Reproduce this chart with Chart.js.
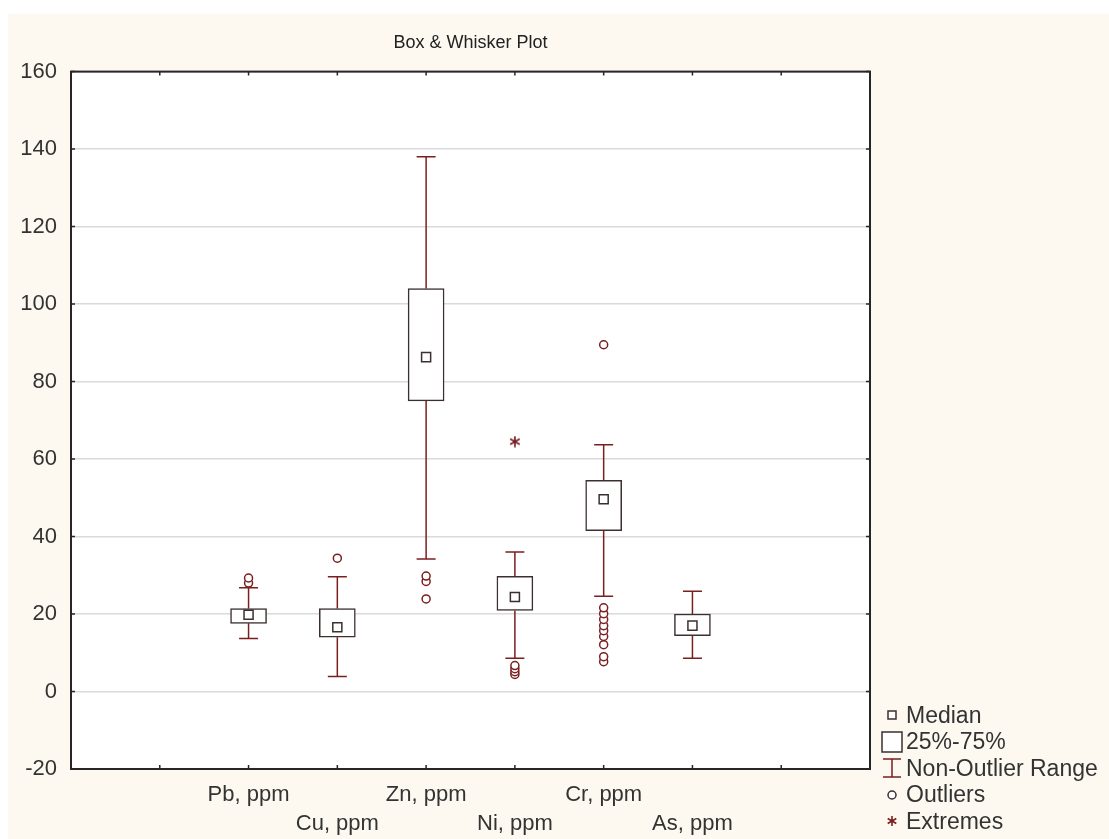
<!DOCTYPE html>
<html>
<head>
<meta charset="utf-8">
<script src="https://cdn.jsdelivr.net/npm/chart.js@4.4.0/dist/chart.umd.min.js"></script>
<style>
  html, body { margin: 0; padding: 0; background: #fff; }
  #wrap { position: absolute; left: 8px; top: 14px; width: 1101px; height: 825px; background: #fdf9f0; }
  #chart { position: absolute; left: 0; top: 0; }
  #legend { position: absolute; left: 872px; top: 688px; font: 23px Arial, "Liberation Sans", sans-serif; color: #333; }
  .row { height: 26.5px; display: flex; align-items: center; white-space: nowrap; }
  .row svg { width: 24px; height: 24px; margin-right: 2px; flex: none; }
</style>
</head>
<body>
<div id="wrap">
  <canvas id="chart" width="1101" height="825"></canvas>
  <div id="legend">
    <div class="row"><svg viewBox="0 0 24 24"><rect x="8" y="8" width="8" height="8" fill="#fff" stroke="#3b2f2f" stroke-width="1.5"/></svg>Median</div>
    <div class="row"><svg viewBox="0 0 24 24"><rect x="2" y="2" width="20" height="20" fill="#fff" stroke="#3b2f2f" stroke-width="1.5"/></svg>25%-75%</div>
    <div class="row"><svg viewBox="0 0 24 24"><path d="M3 3H21M12 3V21M3 21H21" fill="none" stroke="#7a1f1f" stroke-width="1.5"/></svg>Non-Outlier Range</div>
    <div class="row"><svg viewBox="0 0 24 24"><circle cx="12" cy="12" r="4" fill="#fff" stroke="#3b2f2f" stroke-width="1.5"/></svg>Outliers</div>
    <div class="row"><svg viewBox="0 0 24 24"><path d="M12 7V17M7.7 9.5L16.3 14.5M7.7 14.5L16.3 9.5" fill="none" stroke="#7a1f1f" stroke-width="1.6"/></svg>Extremes</div>
  </div>
</div>
<script>
// data
const categories = ['Pb, ppm', 'Cu, ppm', 'Zn, ppm', 'Ni, ppm', 'Cr, ppm', 'As, ppm'];
const q1 = [17.6, 14.0, 75.0, 20.9, 41.5, 14.4];
const medians = [19.8, 16.6, 86.3, 24.4, 49.6, 17.0];
const q3 = [21.4, 21.4, 104.0, 29.7, 54.5, 20.0];
const whiskerLow = [13.7, 3.9, 34.2, 8.6, 24.6, 8.6];
const whiskerHigh = [26.8, 29.6, 138.0, 36.0, 63.7, 25.9];
const outliers = [
  [28.0, 29.3],
  [34.4],
  [23.9, 28.4, 29.8],
  [4.4, 5.1, 5.9, 6.7],
  [7.7, 9.0, 12.1, 14.2, 15.7, 17.0, 18.6, 20.1, 21.6, 89.5],
  []
];
const extremes = [[], [], [], [64.5], [], []];
const yTicks = [-20, 0, 20, 40, 60, 80, 100, 120, 140, 160];

const firstSlot = 2;   // categories sit at x = 2..7 on a 0..9 axis
const slotCount = 9;

const boxColor = '#3b2f2f';
const whiskColor = '#7a1f1f';
const font = 'Arial, "Liberation Sans", sans-serif';

const xOf = i => i + firstSlot;

const boxData = categories.map((c, i) => ({ x: xOf(i), y: [q1[i], q3[i]] }));
const medianData = categories.map((c, i) => ({ x: xOf(i), y: medians[i] }));
const whiskerData = [];
categories.forEach((c, i) => {
  whiskerData.push({ x: xOf(i), y: whiskerLow[i] }, { x: xOf(i), y: q1[i] }, { x: xOf(i), y: null });
  whiskerData.push({ x: xOf(i), y: q3[i] }, { x: xOf(i), y: whiskerHigh[i] }, { x: xOf(i), y: null });
});
const capData = [];
categories.forEach((c, i) => {
  capData.push({ x: xOf(i), y: whiskerLow[i] }, { x: xOf(i), y: whiskerHigh[i] });
});
const outlierData = [];
outliers.forEach((list, i) => list.forEach(v => outlierData.push({ x: xOf(i), y: v })));
const extremeData = [];
extremes.forEach((list, i) => list.forEach(v => extremeData.push({ x: xOf(i), y: v })));

// six-spoke asterisk used as point style for extremes
const asterisk = document.createElement('canvas');
asterisk.width = 12; asterisk.height = 12;
(function () {
  const c = asterisk.getContext('2d');
  c.strokeStyle = whiskColor; c.lineWidth = 1.7;
  c.beginPath();
  c.moveTo(6, 0.5); c.lineTo(6, 11.5);
  c.moveTo(1.2, 3.2); c.lineTo(10.8, 8.8);
  c.moveTo(1.2, 8.8); c.lineTo(10.8, 3.2);
  c.stroke();
})();

// white plot area, frame and inward tick marks
const frameTicks = {
  id: 'frameTicks',
  beforeDraw(chart) {
    const { ctx, chartArea: a } = chart;
    ctx.save();
    ctx.fillStyle = '#fff';
    ctx.fillRect(a.left, a.top, a.right - a.left, a.bottom - a.top);
    ctx.restore();
  },
  afterDatasetsDraw(chart) {
    const { ctx, chartArea: a, scales: { x, y } } = chart;
    ctx.save();
    ctx.strokeStyle = '#262626';
    ctx.lineWidth = 1.5;
    ctx.beginPath();
    x.ticks.forEach(t => {
      const px = x.getPixelForValue(t.value);
      ctx.moveTo(px, a.bottom); ctx.lineTo(px, a.bottom - 4);
      ctx.moveTo(px, a.top); ctx.lineTo(px, a.top + 4);
    });
    y.ticks.forEach(t => {
      const py = y.getPixelForValue(t.value);
      ctx.moveTo(a.left, py); ctx.lineTo(a.left + 4, py);
      ctx.moveTo(a.right, py); ctx.lineTo(a.right - 4, py);
    });
    ctx.stroke();
    ctx.lineWidth = 2;
    ctx.strokeRect(a.left, a.top, a.right - a.left, a.bottom - a.top);
    ctx.restore();
  }
};

new Chart(document.getElementById('chart'), {
  type: 'scatter',
  data: {
    datasets: [
      {
        type: 'line', data: whiskerData, borderColor: whiskColor, borderWidth: 1.5,
        pointRadius: 0, spanGaps: false, order: 6
      },
      {
        type: 'bar', data: boxData, backgroundColor: '#fff', borderColor: boxColor,
        borderWidth: 1.5, borderSkipped: false, barThickness: 36, order: 5
      },
      {
        data: capData, pointStyle: 'line', pointRadius: 9.5, borderColor: whiskColor,
        borderWidth: 1.5, order: 4
      },
      {
        data: medianData, pointStyle: 'rect', pointRadius: 6.4, backgroundColor: '#fff',
        borderColor: boxColor, borderWidth: 1.5, order: 3
      },
      {
        data: outlierData, pointStyle: 'circle', pointRadius: 4, backgroundColor: '#fff',
        borderColor: whiskColor, borderWidth: 1.5, order: 2
      },
      {
        data: extremeData, pointStyle: asterisk, pointRadius: 6, order: 1
      }
    ]
  },
  options: {
    responsive: false,
    animation: false,
    events: [],
    layout: { padding: { left: 0, right: 239, top: 0, bottom: 0 } },
    plugins: {
      legend: { display: false },
      tooltip: { enabled: false },
      title: {
        display: true, text: 'Box & Whisker Plot', fullSize: false, color: '#222',
        font: { family: font, size: 18, weight: 'normal' }, padding: { top: 18, bottom: 18 }
      }
    },
    scales: {
      x: {
        type: 'linear', min: 0, max: slotCount, offset: false,
        afterFit: s => { s.height = 70; },
        afterBuildTicks: s => { s.ticks = Array.from({ length: slotCount + 1 }, (_, k) => ({ value: k })); },
        grid: { display: false, drawTicks: false },
        border: { display: false },
        ticks: {
          autoSkip: false, maxRotation: 0, padding: 12, color: '#333',
          font: { family: font, size: 22, lineHeight: 1.3 },
          callback: v => {
            const i = v - firstSlot;
            if (i < 0 || i >= categories.length) return '';
            return i % 2 === 0 ? categories[i] : ['', categories[i]];
          }
        }
      },
      y: {
        min: yTicks[0], max: yTicks[yTicks.length - 1],
        afterFit: s => { s.width = 63; },
        afterBuildTicks: s => { s.ticks = yTicks.map(v => ({ value: v })); },
        grid: { color: '#dadada', lineWidth: 1.5, drawTicks: false },
        border: { display: false },
        ticks: { padding: 14, color: '#333', font: { family: font, size: 22 } }
      }
    }
  },
  plugins: [frameTicks]
});
</script>
</body>
</html>
